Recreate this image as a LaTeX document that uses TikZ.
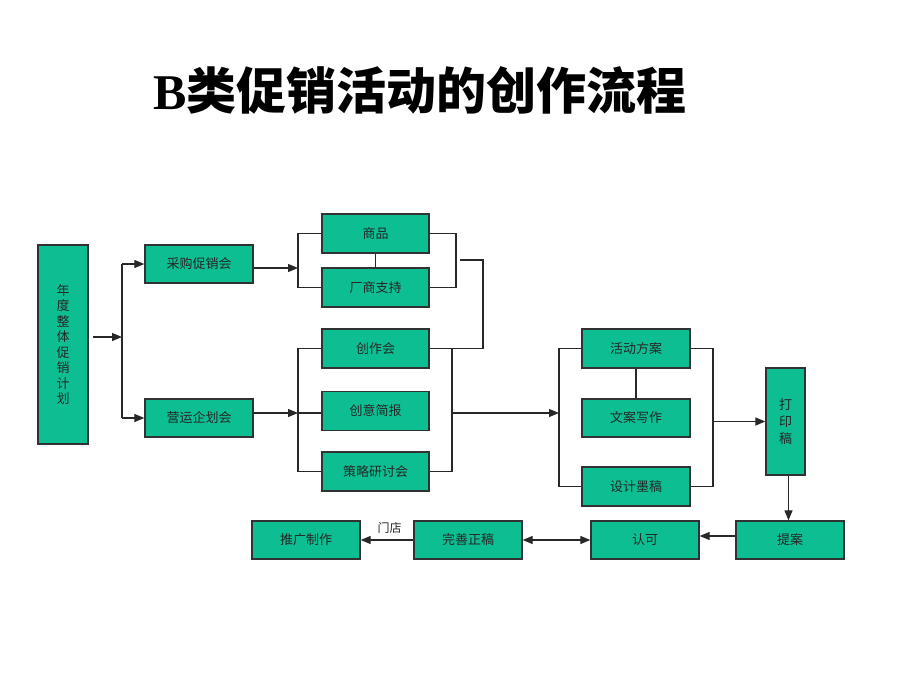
\documentclass[tikz,border=0pt]{standalone}
\usepackage{fontspec}
\newfontfamily\cjk{Noto Sans CJK SC}
\newfontfamily\titlelatin{Liberation Serif}
\usetikzlibrary{arrows.meta}
\definecolor{boxgreen}{RGB}{12,190,145}
\definecolor{edgegray}{RGB}{50,50,50}
\definecolor{linegray}{RGB}{40,40,40}
\tikzset{
  box/.style={draw=edgegray, line width=1.3pt, fill=boxgreen, inner sep=0pt,
    minimum width=108pt, minimum height=38pt, font=\cjk\fontsize{13}{15}\selectfont, text=black!85},
  tallbox/.style={box, align=center, font=\cjk\fontsize{13}{15.5}\selectfont},
  conn/.style={draw=linegray, line width=1.2pt},
  arr/.style={conn, -{Triangle[length=10pt,width=8pt]}},
  dblarr/.style={conn, {Triangle[length=10pt,width=8pt]}-{Triangle[length=10pt,width=8pt]}}
}
\begin{document}
\begin{tikzpicture}[x=1pt,y=-1pt]
\useasboundingbox (0,0) rectangle (920,690);
% title
\node (title) at (420,90) {\fontsize{50}{60}\selectfont\titlelatin\bfseries B\cjk\bfseries 类促销活动的创作流程};
% boxes
\node[tallbox, minimum width=50pt, minimum height=199pt] (plan) at (63,344.5) {年\\度\\整\\体\\促\\销\\计\\划};
\node[box] (caigou) at (199,264) {采购促销会};
\node[box] (yingyun) at (199,418) {营运企划会};
\node[box, minimum width=107pt, minimum height=39pt] (shangpin) at (375.5,233.5) {商品};
\node[box, minimum width=107pt, minimum height=39pt] (changshang) at (375.5,287.5) {厂商支持};
\node[box, minimum width=107pt, minimum height=39pt] (chuangzuo) at (375.5,348.5) {创作会};
\node[box, minimum width=107pt, minimum height=39pt] (chuangyi) at (375.5,411) {创意简报};
\node[box, minimum width=107pt, minimum height=39pt] (celue) at (375.5,471.5) {策略研讨会};
\node[box, minimum height=39pt] (huodong) at (636,348.5) {活动方案};
\node[box] (wenan) at (636,418) {文案写作};
\node[box, minimum height=39pt] (sheji) at (636,486.5) {设计墨稿};
\node[tallbox, minimum width=39pt, minimum height=107pt, font=\cjk\fontsize{13}{17}\selectfont] (dayin) at (785.5,421.5) {打\\印\\稿};
\node[box] (tuiguang) at (306,540) {推广制作};
\node[box] (wanshan) at (468,540) {完善正稿};
\node[box] (renke) at (645,540) {认可};
\node[box] (tian) at (790,540) {提案};
% coordinates
\coordinate (b1) at (122,337);
\coordinate (b1t) at (122,264);
\coordinate (b1b) at (122,418);
\coordinate (b2) at (298,268);
\coordinate (b2t) at (298,233.5);
\coordinate (b2b) at (298,287.5);
\coordinate (r2t) at (456,233.5);
\coordinate (r2b) at (456,287.5);
\coordinate (j1) at (460,260);
\coordinate (j2) at (483,260);
\coordinate (j3) at (483,348.5);
\coordinate (b3) at (298,413);
\coordinate (b3t) at (298,348.5);
\coordinate (b3b) at (298,471.5);
\coordinate (r3t) at (452,348.5);
\coordinate (r3m) at (452,413);
\coordinate (r3b) at (452,471.5);
\coordinate (b4) at (559,413);
\coordinate (b4t) at (559,348.5);
\coordinate (b4b) at (559,486.5);
\coordinate (r4t) at (713,348.5);
\coordinate (r4m) at (713,421.5);
\coordinate (r4b) at (713,486.5);
% connectors
\draw[arr] ([xshift=4pt]plan.east |- b1) -- (b1);
\draw[conn] (b1t) -- (b1b);
\draw[arr] (b1t) -- (caigou.west);
\draw[arr] (b1b) -- (yingyun.west);
\draw[arr] (caigou.east |- b2) -- (b2);
\draw[conn] (shangpin.west) -- (b2t) -- (b2b) -- (changshang.west);
\draw[conn] (shangpin.south) -- (changshang.north);
\draw[conn] (shangpin.east) -- (r2t) -- (r2b) -- (changshang.east);
\draw[conn] (j1) -- (j2) -- (j3) -- (chuangzuo.east);
\draw[arr] (yingyun.east |- b3) -- (b3);
\draw[conn] (chuangzuo.west) -- (b3t) -- (b3b) -- (celue.west);
\draw[conn] (b3) -- (chuangyi.west |- b3);
\draw[conn] (r3t) -- (r3b) -- (celue.east);
\draw[arr] (r3m) -- (b4);
\draw[conn] (huodong.west) -- (b4t) -- (b4b) -- (sheji.west);
\draw[conn] (huodong.south) -- (wenan.north);
\draw[conn] (huodong.east) -- (r4t) -- (r4b) -- (sheji.east);
\draw[arr] (r4m) -- (dayin.west);
\draw[arr] ([xshift=3pt]dayin.south) -- ([xshift=3pt]dayin.south |- tian.north);
\draw[arr] ([yshift=4pt]tian.west) -- ([yshift=4pt]renke.east);
\draw[dblarr] (wanshan.east) -- (renke.west);
\draw[arr] (wanshan.west) -- node[pos=0.45, above=3pt, font=\cjk\fontsize{12}{14}\selectfont, text=black!85] (mendian) {门店} (tuiguang.east);
\end{tikzpicture}
\end{document}
